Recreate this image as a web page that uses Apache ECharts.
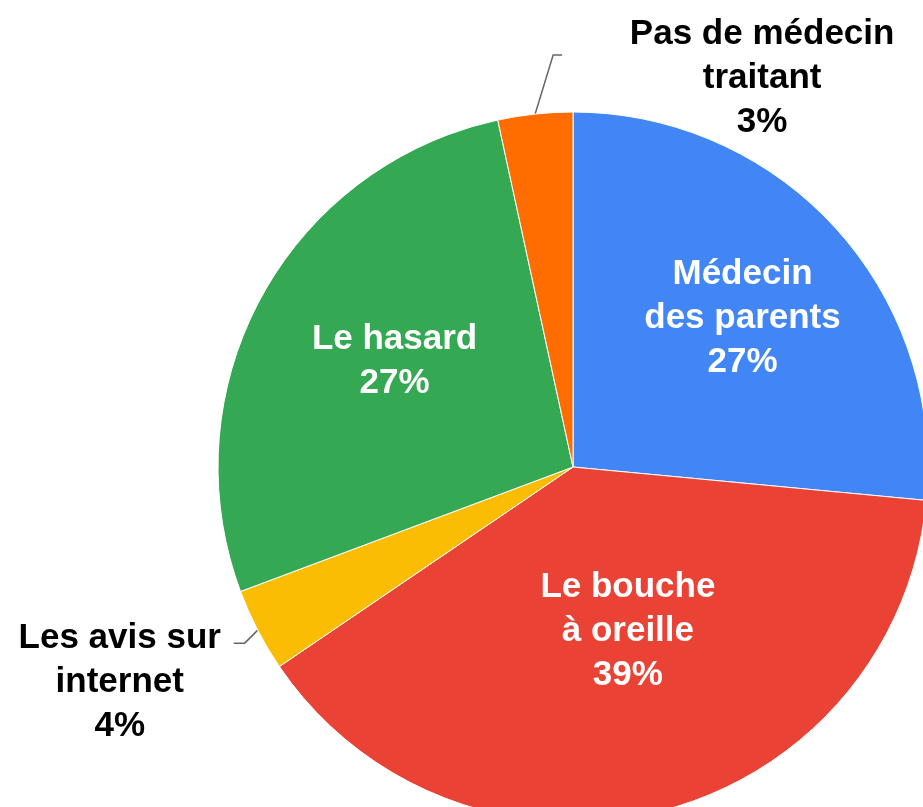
<!DOCTYPE html>
<html>
<head>
<meta charset="utf-8">
<script src="https://cdn.jsdelivr.net/npm/echarts@6/dist/echarts.min.js"></script>
<style>
  html, body { margin: 0; padding: 0; background: #fff; }
  #chart { width: 923px; height: 807px; }
</style>
</head>
<body>
<div id="chart"></div>
<script>
// données (en %)
var categories = ["Médecin\ndes parents", "Le bouche\nà oreille", "Les avis sur\ninternet", "Le hasard", "Pas de médecin\ntraitant"];
var values = [26.5, 39.0, 3.8, 27.3, 3.4];
var colors = ["#4285F4", "#EA4335", "#FBBC04", "#34A853", "#FF6D01"];
var outside = [false, false, true, false, true];

var chart = echarts.init(document.getElementById("chart"));

// décalages des étiquettes (style)
var innerShift = { 0: [36, -27], 1: [10, -10], 3: [-20, -19] };
var outerLayout = {
  2: { label: [-138, 52], line: [[-13, 13], [-24, 13]] },
  4: { label: [227, -36], line: [[18, -59], [27, -59]] }
};

var pieData = categories.map(function (name, i) {
  var item = {
    name: name,
    value: values[i],
    itemStyle: { color: colors[i] }
  };
  if (outside[i]) {
    item.label = { position: "outside", color: "#000" };
    item.labelLine = { show: true };
  } else {
    item.label = { position: "inside", color: "#fff" };
    item.labelLine = { show: false };
  }
  return item;
});

chart.setOption({
  animation: false,
  backgroundColor: "#fff",
  series: [
    {
      type: "pie",
      center: [573, 467],
      radius: 355,
      startAngle: 90,
      clockwise: true,
      avoidLabelOverlap: false,
      itemStyle: { borderColor: "#fff", borderWidth: 1 },
      label: {
        fontFamily: "Liberation Sans, Arial, sans-serif",
        fontWeight: "bold",
        fontSize: 35,
        lineHeight: 44,
        align: "center",
        formatter: function (p) {
          return p.name + "\n" + Math.round(p.percent) + "%";
        }
      },
      labelLine: {
        length: 20,
        length2: 10,
        lineStyle: { color: "#666", width: 1.5 }
      },
      labelLayout: function (params) {
        var i = params.dataIndex;
        if (outerLayout[i] && params.labelLinePoints) {
          var p0 = params.labelLinePoints[0];
          var o = outerLayout[i];
          return {
            x: p0[0] + o.label[0],
            y: p0[1] + o.label[1],
            align: "center",
            verticalAlign: "middle",
            labelLinePoints: [
              [p0[0], p0[1]],
              [p0[0] + o.line[0][0], p0[1] + o.line[0][1]],
              [p0[0] + o.line[1][0], p0[1] + o.line[1][1]]
            ]
          };
        }
        if (innerShift[i]) {
          return { dx: innerShift[i][0], dy: innerShift[i][1] };
        }
        return {};
      },
      data: pieData
    }
  ]
});

window.addEventListener("resize", function () {
  chart.resize();
});
</script>
</body>
</html>
